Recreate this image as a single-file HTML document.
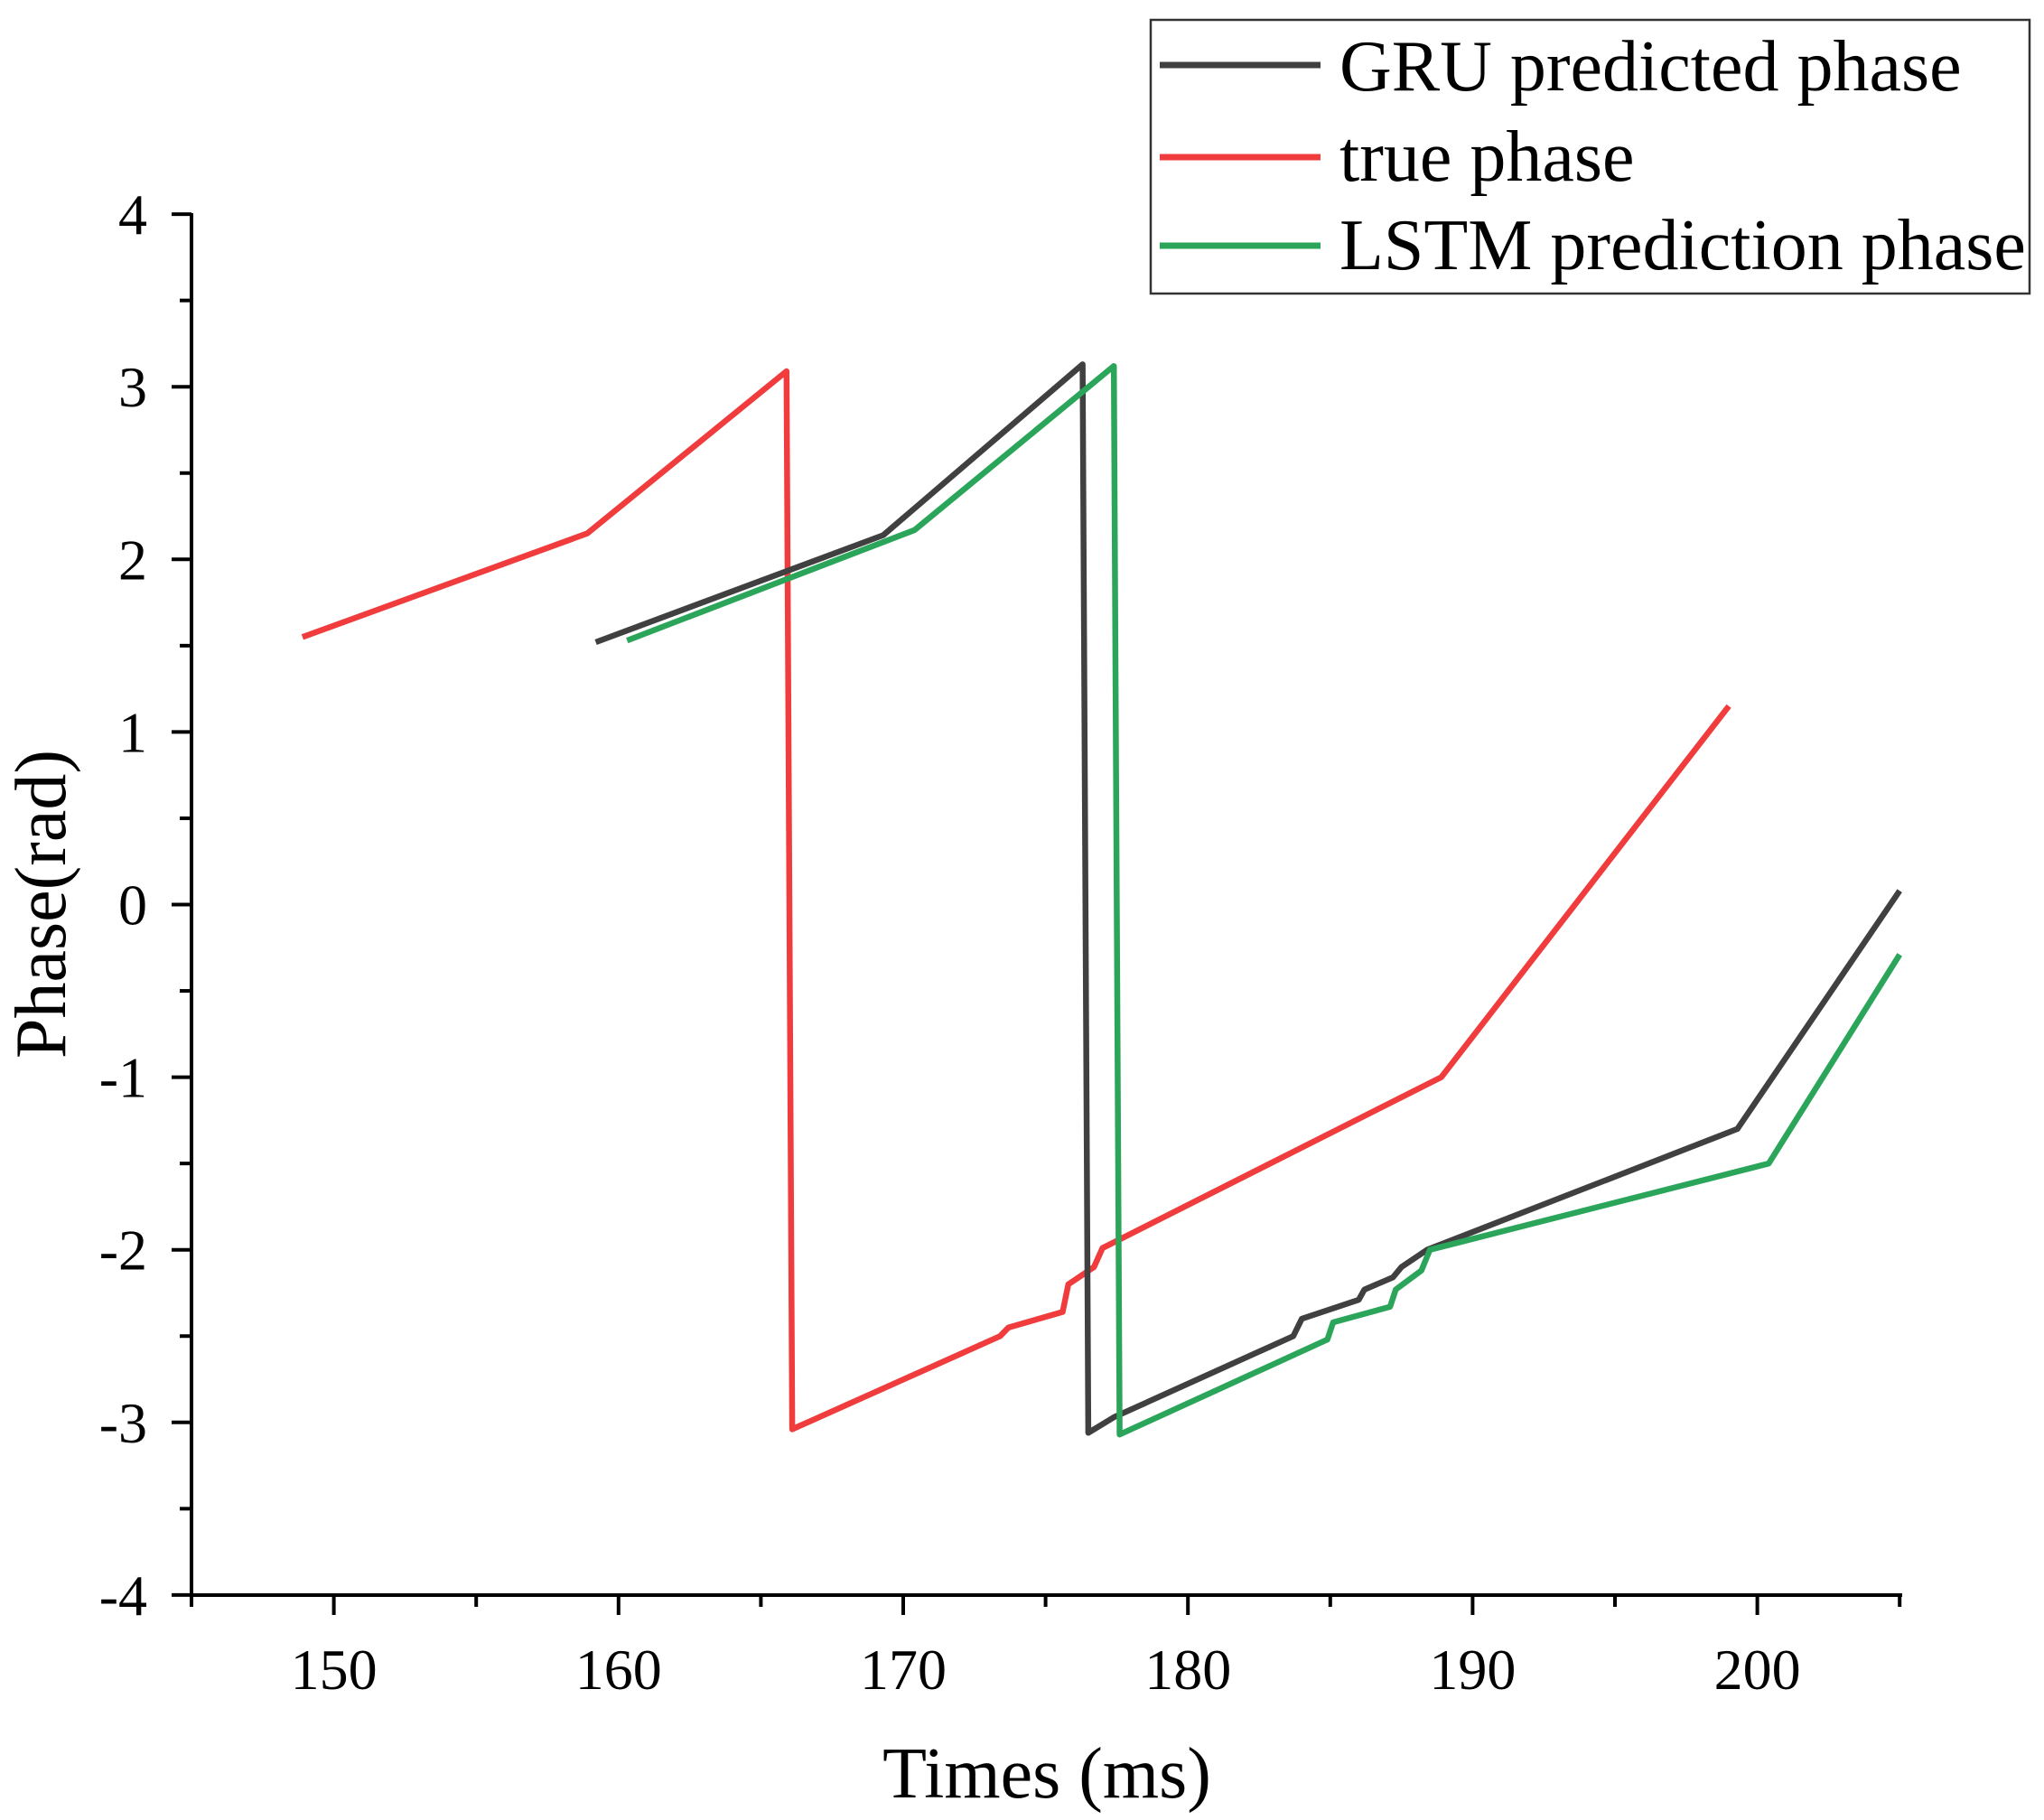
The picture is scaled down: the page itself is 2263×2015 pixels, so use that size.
<!DOCTYPE html>
<html><head><meta charset="utf-8"><style>html,body{margin:0;padding:0;background:#fff}svg{display:block}</style></head>
<body>
<svg id="s" width="2263" height="2015" viewBox="0 0 2263 2015" xmlns="http://www.w3.org/2000/svg" font-family="Liberation Serif, serif">
<rect width="2263" height="2015" fill="#fff"/>
<g id="g"></g>
<text x="1159" y="1990" font-size="80" text-anchor="middle">Times (ms)</text>
<text transform="translate(72,1001) rotate(-90)" font-size="80" text-anchor="middle">Phase(rad)</text>
<rect x="1274" y="22" width="973" height="303" fill="#fff" stroke="#333" stroke-width="2.5"/>
<line x1="1284" y1="72" x2="1462" y2="72" stroke="#404040" stroke-width="7"/>
<line x1="1284" y1="174" x2="1462" y2="174" stroke="#f03c3c" stroke-width="7"/>
<line x1="1284" y1="272" x2="1462" y2="272" stroke="#2aa55a" stroke-width="7"/>
<text x="1483" y="100" font-size="80">GRU predicted phase</text>
<text x="1483" y="200" font-size="80">true phase</text>
<text x="1483" y="298" font-size="80">LSTM prediction phase</text>
</svg>
<script>
var X0=212,Y0=1766,XS=31.52,YS=191.1;
function px(x){return X0+(x-145)*XS} function py(y){return 1001.5-y*YS}
var g=document.getElementById('g'),h='';
h+='<line x1="'+X0+'" y1="236" x2="'+X0+'" y2="'+(Y0+2)+'" stroke="#000" stroke-width="4"/>';
h+='<line x1="'+(X0-2)+'" y1="'+Y0+'" x2="2106" y2="'+Y0+'" stroke="#000" stroke-width="4"/>';
for(var x=145;x<=205;x+=5){var maj=(x%10==0);var X=px(x);
h+='<line x1="'+X+'" y1="'+Y0+'" x2="'+X+'" y2="'+(Y0+(maj?22:13))+'" stroke="#000" stroke-width="4"/>';
if(maj)h+='<text x="'+X+'" y="1870" font-size="64" text-anchor="middle">'+x+'</text>';}
for(var y=-4;y<=4;y+=0.5){var Y=py(y);var maj=(y%1==0);
h+='<line x1="'+X0+'" y1="'+Y+'" x2="'+(X0-(maj?22:13))+'" y2="'+Y+'" stroke="#000" stroke-width="4"/>';
if(maj)h+='<text x="163" y="'+(Y+22)+'" font-size="64" text-anchor="end">'+y+'</text>';}
function pl(pts,c){var s=pts.map(function(p){return px(p[0]).toFixed(1)+','+py(p[1]).toFixed(1)}).join(' ');
h+='<polyline points="'+s+'" fill="none" stroke="'+c+'" stroke-width="6.5" stroke-linejoin="round"/>';}
pl([[148.9,1.55],[158.9,2.15],[165.9,3.09],[166.1,-3.04],[173.4,-2.5],[173.7,-2.45],[175.6,-2.36],[175.8,-2.2],[176.7,-2.1],[177,-1.99],[188.9,-1.0],[199,1.15]],'#f03c3c');
pl([[159.2,1.52],[169.3,2.14],[176.3,3.13],[176.5,-3.06],[177.4,-2.97],[183.7,-2.5],[184,-2.4],[186,-2.29],[186.2,-2.23],[187.2,-2.16],[187.5,-2.1],[188.4,-2.0],[199.3,-1.3],[205,0.08]],'#404040');
pl([[160.3,1.53],[170.4,2.17],[177.4,3.12],[177.6,-3.07],[184.9,-2.52],[185.1,-2.42],[187.1,-2.33],[187.3,-2.23],[188.2,-2.12],[188.5,-2.0],[200.4,-1.5],[205,-0.29]],'#2aa55a');
g.innerHTML=h;
</script>
</body></html>
